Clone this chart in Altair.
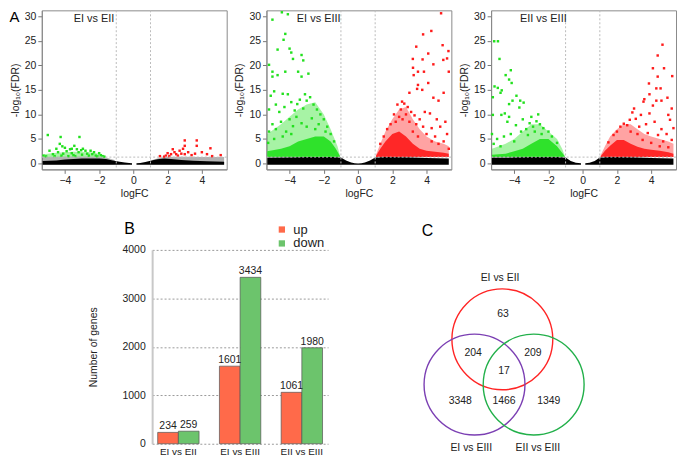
import altair as alt
import pandas as pd

FONT = "Liberation Sans"
AX = "#222222"
GREEN = "#22e01e"
RED = "#ff1a1a"

# ---------------- volcano plots (A) ----------------
fc_cut = [-1, 1]
fdr_cut = [1.3]
x_ticks = [-4, -2, 0, 2, 4]
y_ticks = [0, 5, 10, 15, 20, 25, 30]
x_dom = [-5.35, 5.45]
y_dom = [-1.2, 31.2]
panel_titles = ["EI vs EII", "EI vs EIII", "EII vs EIII"]

# non-significant (black) dense band: (segment, x, upper edge)
v1_black = [("a", [-5.3, -4.5, -4.0, -3.0, -2.0, -1.6, -1.2, -0.8, -0.5, -0.25, -0.08],
             [0.5, 0.6, 0.8, 1.0, 1.0, 0.9, 0.6, 0.35, 0.2, 0.08, 0.03]),
            ("b", [0.18, 0.4, 0.7, 1.0, 1.4, 1.8, 2.2, 2.8, 3.5, 4.3, 5.3],
             [0.03, 0.1, 0.3, 0.55, 0.85, 1.0, 0.9, 0.7, 0.55, 0.45, 0.35])]
v1_gray = [("a", [-5.3, -4.0, -3.0, -2.0, -1.5, -1.1], [1.3, 1.35, 1.35, 1.35, 1.1, 0.7]),
           ("b", [1.1, 1.5, 2.0, 3.0, 4.0, 5.3], [0.7, 1.1, 1.35, 1.35, 1.3, 1.3])]
v2_black = [("a", [-5.3, -4, -3, -2, -1.5, -1.0, -0.7, -0.4, -0.2, 0, 0.2, 0.4, 0.7, 1.0, 1.5, 2, 3, 4, 5.3],
             [1.2, 1.25, 1.3, 1.3, 1.3, 1.2, 0.6, 0.22, 0.06, 0.02, 0.06, 0.22, 0.6, 1.2, 1.3, 1.3, 1.25, 1.1, 1.0])]
v3_black = [("a", [-5.3, -4, -3, -2, -1.5, -1.0, -0.7, -0.4, -0.1],
             [1.2, 1.25, 1.3, 1.3, 1.3, 1.2, 0.5, 0.15, 0.03]),
            ("b", [0.15, 0.4, 0.7, 1.0, 1.5, 2, 3, 4, 5.3],
             [0.03, 0.15, 0.5, 1.2, 1.3, 1.3, 1.25, 1.1, 1.0])]

# dense significant clouds: (segment, x, upper edge); lower edge = FDR cut
v1_ghalo = [("a", [-5.25, -4.5, -3.5, -2.5, -2.0, -1.6], [1.9, 2.2, 2.4, 2.3, 2.0, 1.45])]
v1_gcore = []
v1_rhalo = []
v1_rcore = []
v2_ghalo = [("a", [-5.3, -4.5, -4.0, -3.5, -3.0, -2.5, -2.0, -1.6, -1.2, -1.05],
             [6, 8, 9.5, 11, 12, 12.5, 10, 7, 3.5, 1.5])]
v2_gcore = [("a", [-5.3, -4.5, -4.0, -3.5, -3.0, -2.5, -2.0, -1.6, -1.3, -1.05],
             [2.5, 3.0, 3.5, 4.5, 5.0, 5.5, 5.5, 4.5, 3.0, 1.5])]
v2_rhalo = [("a", [1.05, 1.3, 1.6, 2.0, 2.4, 2.8, 3.2, 3.6, 4.0, 4.5, 5.0, 5.3],
             [1.8, 4.0, 6.5, 9.0, 11.0, 11.5, 9.0, 7.0, 5.5, 4.5, 4.0, 3.5])]
v2_rcore = [("a", [1.05, 1.3, 1.6, 2.0, 2.4, 2.8, 3.2, 3.6, 4.0, 4.5, 5.0, 5.3],
             [1.6, 3.0, 4.5, 6.0, 6.5, 5.5, 4.0, 3.0, 2.6, 2.4, 2.2, 2.0])]
v3_ghalo = [("a", [-5.3, -4.5, -4.0, -3.5, -3.0, -2.5, -2.0, -1.5, -1.2, -1.05],
             [3, 4, 5, 6.5, 8, 8, 6.5, 5, 3, 1.6])]
v3_gcore = [("a", [-5.3, -4.5, -4.0, -3.5, -3.0, -2.5, -2.0, -1.5, -1.2, -1.05],
             [1.8, 2.0, 2.5, 3.0, 4.0, 5.0, 5.0, 3.5, 2.2, 1.5])]
v3_rhalo = [("a", [1.05, 1.3, 1.6, 2.0, 2.4, 2.8, 3.2, 3.6, 4.0, 4.5, 5.0, 5.3],
             [1.7, 3.5, 5.5, 7, 8, 8, 7, 6, 5.5, 5, 4.5, 4])]
v3_rcore = [("a", [1.05, 1.3, 1.6, 2.0, 2.4, 2.8, 3.2, 3.6, 4.0, 4.5, 5.0, 5.3],
             [1.5, 2.6, 3.6, 4.8, 4.8, 4.0, 3.4, 3.0, 2.8, 2.6, 2.3, 2.0])]

# scattered significant genes (logFC, -log10 FDR)
v1_green = [(-5.0, 5.8), (-4.3, 4.0), (-4.25, 5.4), (-3.15, 5.4), (-4.9, 2.6), (-4.5, 3.0), (-4.0, 3.2),
            (-3.7, 2.9), (-3.45, 3.6), (-3.3, 2.9), (-2.95, 3.0), (-2.8, 2.6), (-2.5, 2.6), (-2.3, 2.3),
            (-2.0, 2.1), (-5.25, 1.6), (-4.7, 1.9), (-4.4, 2.3), (-4.1, 2.0), (-3.9, 2.5), (-3.6, 2.1),
            (-3.5, 1.7), (-3.2, 2.3), (-3.0, 1.8), (-2.7, 2.0), (-2.6, 1.6), (-2.4, 1.9), (-2.2, 1.6),
            (-1.9, 1.7), (-1.8, 1.5), (-1.7, 1.4), (-4.6, 1.5), (-4.2, 1.6), (-3.8, 1.5), (-3.4, 1.5),
            (-2.1, 1.45), (-5.1, 1.45), (-3.05, 2.7), (-4.15, 3.5), (-3.6, 3.0)]
v1_red = [(3.0, 4.7), (3.7, 4.7), (3.0, 3.6), (3.7, 3.6), (4.5, 3.1), (2.3, 2.9), (2.7, 2.6), (3.2, 2.3),
          (2.2, 1.9), (1.9, 1.6), (4.3, 1.9), (4.0, 2.3), (5.1, 1.7), (2.5, 1.9), (3.0, 1.9), (1.55, 1.5),
          (2.0, 2.1), (2.4, 2.3), (2.8, 2.0), (2.6, 1.6), (3.4, 1.7), (3.6, 2.0), (2.1, 1.5), (1.8, 1.4),
          (2.9, 3.0), (4.6, 1.5)]
v2_green = [(-4.45, 30.8), (-4.1, 30.4), (-5.0, 29.3), (-4.25, 26.4), (-4.35, 25.2), (-4.7, 23.2),
            (-4.0, 23.4), (-3.9, 22.6), (-3.3, 22.1), (-3.2, 21.0), (-3.8, 21.3), (-5.2, 20.1), (-5.0, 18.7),
            (-4.7, 18.0), (-4.25, 18.7), (-3.5, 18.7), (-2.9, 18.3), (-3.3, 17.7), (-5.0, 17.7), (-4.9, 14.7),
            (-4.4, 14.2), (-5.1, 13.8), (-4.1, 14.1), (-3.55, 12.1), (-3.1, 14.1), (-4.8, 12.0), (-4.6, 10.5),
            (-5.2, 11.0), (-4.3, 11.5), (-3.9, 12.5), (-3.7, 10.8), (-3.4, 13.0), (-3.0, 12.8), (-2.8, 13.5),
            (-2.6, 12.0), (-2.4, 11.0), (-2.2, 10.0), (-3.2, 11.2), (-3.6, 9.5), (-4.0, 9.0), (-4.5, 8.5),
            (-5.0, 8.0), (-5.2, 6.5), (-4.8, 7.0), (-2.0, 9.0), (-1.8, 7.5), (-1.6, 6.0), (-1.4, 4.5),
            (-2.3, 8.0), (-2.7, 9.2), (-3.3, 8.2), (-3.8, 7.6), (-4.2, 6.5), (-2.5, 7.0), (-3.0, 7.5),
            (-1.9, 6.5), (-4.9, 5.0), (-5.25, 4.2), (-4.4, 5.5), (-3.9, 6.0)]
v2_red = [(4.85, 30.6), (4.28, 27.0), (3.8, 26.3), (3.4, 23.8), (4.1, 22.4), (4.94, 24.1), (5.28, 22.9),
          (3.2, 21.3), (3.77, 21.2), (4.4, 20.2), (4.98, 21.1), (5.2, 21.4), (5.3, 18.7), (3.21, 19.5),
          (3.5, 18.7), (3.85, 18.7), (3.25, 18.0), (4.1, 16.4), (3.5, 16.0), (3.75, 15.0), (3.45, 15.2),
          (3.0, 14.4), (4.4, 13.4), (4.7, 12.8), (5.0, 14.4), (2.57, 12.6), (2.3, 12.0), (2.5, 11.0),
          (2.7, 12.2), (2.9, 11.5), (3.1, 10.5), (2.1, 10.0), (2.4, 9.5), (2.8, 10.0), (3.3, 9.8),
          (3.6, 9.0), (3.9, 10.5), (4.2, 10.2), (4.6, 9.0), (5.1, 8.5), (4.8, 7.5), (4.3, 7.2), (3.8, 7.5),
          (3.4, 8.0), (3.0, 8.5), (1.9, 8.0), (1.7, 7.0), (1.5, 5.5), (1.3, 4.0), (2.2, 8.5), (2.6, 9.0),
          (4.0, 6.0), (4.5, 5.5), (5.2, 6.0), (5.0, 4.5), (4.7, 4.0), (3.5, 5.5), (3.2, 6.5), (4.3, 4.5),
          (5.3, 3.0)]
v3_green = [(-5.17, 24.9), (-4.95, 24.9), (-4.86, 21.3), (-4.2, 19.0), (-4.5, 18.0), (-4.3, 17.1),
            (-4.15, 16.4), (-5.15, 15.7), (-4.96, 15.4), (-4.73, 14.9), (-5.25, 13.5), (-4.8, 14.4),
            (-3.87, 13.8), (-3.65, 12.8), (-3.45, 12.4), (-4.1, 12.8), (-3.7, 11.4), (-4.3, 12.1),
            (-4.55, 10.2), (-4.75, 9.9), (-4.3, 9.5), (-5.25, 9.9), (-5.3, 6.0), (-3.0, 9.5), (-2.7, 8.6),
            (-3.1, 8.2), (-2.5, 8.0), (-2.3, 7.2), (-2.0, 6.5), (-1.8, 5.5), (-1.5, 4.2), (-2.9, 7.5),
            (-3.3, 7.0), (-3.6, 6.5), (-3.9, 7.8), (-4.2, 6.0), (-4.6, 5.5), (-5.0, 5.0), (-5.2, 4.0),
            (-4.4, 8.5), (-3.5, 9.0), (-2.8, 6.5), (-3.2, 5.8), (-4.0, 4.5), (-4.8, 3.5), (-2.6, 10.0),
            (-2.4, 6.0)]
v3_red = [(4.66, 24.2), (4.38, 22.0), (4.1, 19.4), (4.75, 19.4), (4.38, 17.7), (5.23, 17.8), (3.87, 16.3),
          (4.3, 15.3), (4.55, 15.3), (3.9, 14.1), (3.55, 12.6), (3.6, 13.1), (4.3, 12.8), (4.6, 12.8),
          (4.95, 13.4), (4.1, 11.8), (5.2, 11.2), (3.0, 11.2), (2.9, 10.4), (3.4, 9.9), (3.9, 10.2),
          (5.0, 9.9), (5.1, 8.9), (2.75, 8.9), (3.1, 9.1), (2.4, 8.1), (2.2, 7.5), (2.0, 6.5), (1.8, 5.8),
          (1.5, 4.3), (2.6, 7.8), (3.3, 7.5), (3.7, 8.0), (4.2, 8.5), (4.6, 7.0), (5.3, 7.2), (4.9, 6.0),
          (4.4, 5.8), (3.8, 6.2), (3.2, 6.0), (2.8, 6.5), (5.2, 4.8), (4.7, 4.5), (4.0, 4.2), (3.5, 4.8),
          (5.0, 3.3), (4.5, 3.5)]

# ---------------- bar chart (B) ----------------
bar_cats = ["EI vs EII", "EI vs EIII", "EII vs EIII"]
bar_dirs = ["up", "down"]
bar_up = [234, 1601, 1061]
bar_down = [259, 3434, 1980]
bar_ticks = [0, 1000, 2000, 3000, 4000]

# ---------------- Venn diagram (C) ----------------
venn_sets = ["EI vs EII", "EI vs EIII", "EII vs EIII"]
venn_colors = ["#ff2424", "#7b3fb3", "#22b04a"]
venn_cx = [171.3, 143.3, 202.8]
venn_cy = [117.0, 162.5, 162.5]
venn_counts = ["63", "204", "209", "17", "3348", "1466", "1349"]
venn_count_x = [172, 142, 202, 173, 129, 173, 218]
venn_count_y = [91, 131, 131, 149, 179, 179, 179]
venn_label_x = [169, 140, 207]
venn_label_y = [55, 226, 226]

# =====================================================
xs = alt.Scale(domain=x_dom, nice=False, zero=False)
ys = alt.Scale(domain=y_dom, nice=False, zero=False)
xaxis = alt.Axis(values=x_ticks, grid=False, tickSize=4, tickColor="#777", domainColor="#888",
                 labelFontSize=10.5, labelColor=AX, titleFontSize=10.5, titleColor=AX,
                 titleFontWeight="normal", labelPadding=2, titlePadding=3)
yaxis = alt.Axis(values=y_ticks, grid=False, tickSize=4, tickColor="#777", domainColor="#888",
                 labelFontSize=10.5, labelColor=AX, titleFontSize=10.5, titleColor=AX,
                 titleFontWeight="normal", labelPadding=2, titlePadding=4)


def X(f):
    return alt.X(f, type="quantitative", scale=xs, axis=xaxis, title="logFC")


def Y(f):
    return alt.Y(f, type="quantitative", scale=ys, axis=yaxis, title="-log₁₀(FDR)")


def area_df(segs, low):
    rows = []
    for seg, xv, tv in segs:
        for a, b in zip(xv, tv):
            rows.append({"seg": seg, "x": a, "top": b, "bot": low})
    return pd.DataFrame(rows)


def area_layer(segs, low, color, opacity):
    return alt.Chart(area_df(segs, low)).mark_area(color=color, opacity=opacity).encode(
        x=X("x"), y=Y("top"), y2=alt.Y2("bot"), detail="seg:N")


def pts_layer(pairs, color):
    return alt.Chart(pd.DataFrame(pairs, columns=["x", "y"])).mark_square(
        size=6, color=color, opacity=1).encode(x=X("x"), y=Y("y"))


def volcano(title, black, gray, ghalo, gcore, rhalo, rcore, green, red, letter):
    layers = []
    if gray:
        layers.append(area_layer(gray, -0.2, "#000000", 0.3))
    layers.append(area_layer(black, -0.25, "#000000", 1))
    for segs, col, op in [(ghalo, GREEN, 0.4), (rhalo, RED, 0.4), (gcore, GREEN, 0.9), (rcore, RED, 0.9)]:
        if segs:
            layers.append(area_layer(segs, fdr_cut[0], col, op))
    layers.append(pts_layer(green, GREEN))
    layers.append(pts_layer(red, RED))
    layers.append(alt.Chart(pd.DataFrame({"x": fc_cut})).mark_rule(
        color="#bbbbbb", strokeDash=[2, 2], strokeWidth=1).encode(x=X("x")))
    layers.append(alt.Chart(pd.DataFrame({"y": fdr_cut})).mark_rule(
        color="#bbbbbb", strokeDash=[2, 2], strokeWidth=1).encode(y=Y("y")))
    layers.append(alt.Chart(pd.DataFrame({"x": [-2.3], "y": [29.5], "t": [title]})).mark_text(
        fontSize=11, color=AX).encode(x=X("x"), y=Y("y"), text="t:N"))
    if letter:
        layers.append(alt.Chart(pd.DataFrame({"x": [-6.95], "y": [31.2], "t": [letter]})).mark_text(
            fontSize=15, color="#000", baseline="top").encode(x=X("x"), y=Y("y"), text="t:N"))
    return alt.layer(*layers).properties(
        width=186, height=160, view=alt.ViewBackground(stroke="#8a8a8a", strokeWidth=1))


top = alt.hconcat(
    volcano(panel_titles[0], v1_black, v1_gray, v1_ghalo, v1_gcore, v1_rhalo, v1_rcore, v1_green, v1_red, "A"),
    volcano(panel_titles[1], v2_black, [], v2_ghalo, v2_gcore, v2_rhalo, v2_rcore, v2_green, v2_red, ""),
    volcano(panel_titles[2], v3_black, [], v3_ghalo, v3_gcore, v3_rhalo, v3_rcore, v3_green, v3_red, ""),
    spacing=6)

# ---- bar chart ----
brows = []
for c, u, d in zip(bar_cats, bar_up, bar_down):
    brows.append({"comp": c, "dir": "up", "n": u})
    brows.append({"comp": c, "dir": "down", "n": d})
bdf = pd.DataFrame(brows)

bx = alt.X("comp:N", sort=bar_cats, scale=alt.Scale(paddingInner=0.33, paddingOuter=0.09),
           axis=alt.Axis(title=None, labelAngle=0, domain=False, ticks=False, labelFontSize=10,
                         labelColor=AX, labelPadding=3))
bxo = alt.XOffset("dir:N", sort=bar_dirs)
by = alt.Y("n:Q", scale=alt.Scale(domain=[0, 4000], nice=False),
           axis=alt.Axis(values=bar_ticks, format="d", title="Number of genes", grid=True,
                         gridDash=[2, 2], gridColor="#9a9a9a", domainColor="#c8c8c8", domainWidth=2,
                         ticks=False, labelPadding=7, titlePadding=24, labelFontSize=10.5,
                         labelColor=AX, titleFontSize=10.5, titleColor=AX, titleFontWeight="normal"))
bars = alt.Chart(bdf).mark_bar(stroke="#555555", strokeWidth=0.7).encode(
    x=bx, xOffset=bxo, y=by,
    color=alt.Color("dir:N", scale=alt.Scale(domain=bar_dirs, range=["#ff6a4a", "#6cc46c"]),
                    legend=alt.Legend(title=None, orient="none", legendX=124, legendY=-27,
                                      symbolType="square", symbolSize=40, symbolStrokeWidth=0,
                                      labelFontSize=13, labelColor=AX, padding=0, rowPadding=0,
                                      labelOffset=5)))
blabels = alt.Chart(bdf).mark_text(baseline="bottom", dy=-1, fontSize=10.5, color=AX).encode(
    x=bx, xOffset=bxo, y=by, text="n:Q")
barchart = alt.layer(bars, blabels).properties(
    width=177, height=195,
    title=alt.TitleParams("B", anchor="start", fontSize=16, fontWeight="normal", dx=-28, offset=-14,
                          frame="group", color="#000"))

# ---- Venn ----
vx = alt.Scale(domain=[-4, 286], nice=False, zero=False)
vy = alt.Scale(domain=[27, 236], nice=False, zero=False, reverse=True)
circ = alt.Chart(pd.DataFrame({"s": venn_sets, "x": venn_cx, "y": venn_cy})).mark_point(
    shape="circle", filled=False, size=10300, strokeWidth=1.4, opacity=1).encode(
    x=alt.X("x:Q", scale=vx, axis=None), y=alt.Y("y:Q", scale=vy, axis=None),
    stroke=alt.Stroke("s:N", scale=alt.Scale(domain=venn_sets, range=venn_colors), legend=None))
cnt = alt.Chart(pd.DataFrame({"t": venn_counts, "x": venn_count_x, "y": venn_count_y})).mark_text(
    fontSize=10.5, color=AX).encode(
    x=alt.X("x:Q", scale=vx, axis=None), y=alt.Y("y:Q", scale=vy, axis=None), text="t:N")
lab = alt.Chart(pd.DataFrame({"t": venn_sets, "x": venn_label_x, "y": venn_label_y})).mark_text(
    fontSize=10.5, color=AX).encode(
    x=alt.X("x:Q", scale=vx, axis=None), y=alt.Y("y:Q", scale=vy, axis=None), text="t:N")
letc = alt.Chart(pd.DataFrame({"t": ["C"], "x": [96], "y": [8]})).mark_text(
    fontSize=16, color="#000").encode(
    x=alt.X("x:Q", scale=vx, axis=None), y=alt.Y("y:Q", scale=vy, axis=None), text="t:N")
venn = alt.layer(circ, cnt, lab, letc).properties(width=290, height=209)

spacer = alt.Chart(pd.DataFrame({"s": [0]})).mark_point(opacity=0).encode(
    x=alt.X("s:Q", axis=None), y=alt.Y("s:Q", axis=None)).properties(width=46, height=10)

bottom = alt.hconcat(spacer, barchart, venn, spacing=0).resolve_scale(color="independent")

chart = alt.vconcat(top, bottom, spacing=21).resolve_scale(color="independent").properties(
    padding=0).configure(font=FONT).configure_view(stroke=None)

chart.save("out.html", embed_options={"renderer": "svg", "actions": False})
